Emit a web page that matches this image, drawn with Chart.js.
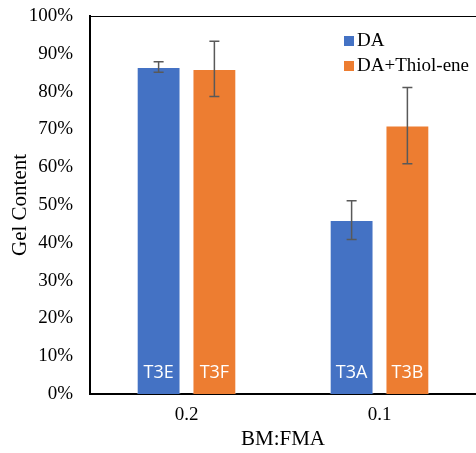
<!DOCTYPE html>
<html>
<head>
<meta charset="utf-8">
<script src="https://cdn.jsdelivr.net/npm/chart.js@4"></script>
<style>
  html, body { margin: 0; padding: 0; background: #fff; overflow: hidden; }
  #wrap { width: 476px; height: 453px; }
</style>
</head>
<body>
<div id="wrap"><canvas id="chart"></canvas></div>
<script>
// data
const categories = ['0.2', '0.1'];
const daValues = [86.5, 46.0];
const daErrors = [1.4, 5.1];
const thiolValues = [86.0, 71.0];
const thiolErrors = [7.3, 10.1];
const daLabels = ['T3E', 'T3A'];
const thiolLabels = ['T3F', 'T3B'];

const serif = 'Liberation Serif';
const errs = [daErrors, thiolErrors];
const barNames = [daLabels, thiolLabels];

// error bars, labels inside bars, top frame line and legend
const extras = {
  id: 'extras',
  afterDatasetsDraw(chart) {
    const ctx = chart.ctx;
    const y = chart.scales.y;
    const area = chart.chartArea;
    ctx.save();

    chart.data.datasets.forEach((ds, i) => {
      chart.getDatasetMeta(i).data.forEach((bar, j) => {
        // label
        ctx.fillStyle = '#fff';
        ctx.font = '18px "Open Sans"';
        ctx.textAlign = 'center';
        ctx.textBaseline = 'middle';
        ctx.fillText(barNames[i][j], bar.x, 373);

        // error bar
        const v = ds.data[j], e = errs[i][j];
        const hi = y.getPixelForValue(v + e);
        const lo = y.getPixelForValue(v - e);
        ctx.strokeStyle = '#595959';
        ctx.lineWidth = 1.5;
        ctx.beginPath();
        ctx.moveTo(bar.x, hi); ctx.lineTo(bar.x, lo);
        ctx.moveTo(bar.x - 5, hi); ctx.lineTo(bar.x + 5, hi);
        ctx.moveTo(bar.x - 5, lo); ctx.lineTo(bar.x + 5, lo);
        ctx.stroke();
      });
    });

    // top frame
    ctx.strokeStyle = '#000';
    ctx.lineWidth = 1;
    ctx.beginPath();
    ctx.moveTo(area.left, area.top + 0.5);
    ctx.lineTo(area.right, area.top + 0.5);
    ctx.stroke();

    // legend
    ctx.font = '19px "' + serif + '"';
    ctx.textAlign = 'left';
    ctx.textBaseline = 'middle';
    const items = [['DA', '#4472C4', 41], ['DA+Thiol-ene', '#ED7D31', 66]];
    items.forEach(([t, c, yy]) => {
      ctx.fillStyle = c;
      ctx.fillRect(344, yy - 5, 10, 10);
      ctx.fillStyle = '#000';
      ctx.fillText(t, 357, yy);
    });
    ctx.restore();
  }
};

new Chart(document.getElementById('chart'), {
  type: 'bar',
  data: {
    labels: categories,
    datasets: [
      { label: 'DA', data: daValues, backgroundColor: '#4472C4',
        borderColor: 'rgba(255,255,255,0.4)', borderWidth: 1,
        barPercentage: 0.786, categoryPercentage: 0.578 },
      { label: 'DA+Thiol-ene', data: thiolValues, backgroundColor: '#ED7D31',
        borderColor: 'rgba(255,255,255,0.4)', borderWidth: 1,
        barPercentage: 0.786, categoryPercentage: 0.578 }
    ]
  },
  options: {
    responsive: true,
    maintainAspectRatio: false,
    animation: false,
    layout: { padding: { top: 16, right: 0, left: 0, bottom: 0 } },
    plugins: {
      legend: { display: false },
      tooltip: { enabled: false }
    },
    scales: {
      x: {
        grid: { display: false, drawTicks: false },
        border: { color: '#000', width: 2 },
        ticks: { color: '#000', font: { family: serif, size: 19 }, padding: 10 },
        title: { display: true, text: 'BM:FMA', color: '#000',
                 font: { family: serif, size: 21 }, padding: { top: 0, bottom: 1 } },
        afterFit: (s) => { s.height = 59; s.paddingLeft = 0; s.paddingRight = 0; }
      },
      y: {
        min: 0, max: 100,
        grid: { display: false, drawTicks: false },
        border: { color: '#000', width: 2 },
        ticks: { stepSize: 10, color: '#000', font: { family: serif, size: 19 },
                 padding: 17, callback: (v) => v + '%' },
        title: { display: true, text: 'Gel Content', color: '#000',
                 font: { family: serif, size: 21 }, padding: { top: 8, bottom: 0 } },
        afterFit: (s) => { s.width = 90; s.paddingTop = 0; s.paddingBottom = 0; }
      }
    }
  },
  plugins: [extras]
});
</script>
</body>
</html>
